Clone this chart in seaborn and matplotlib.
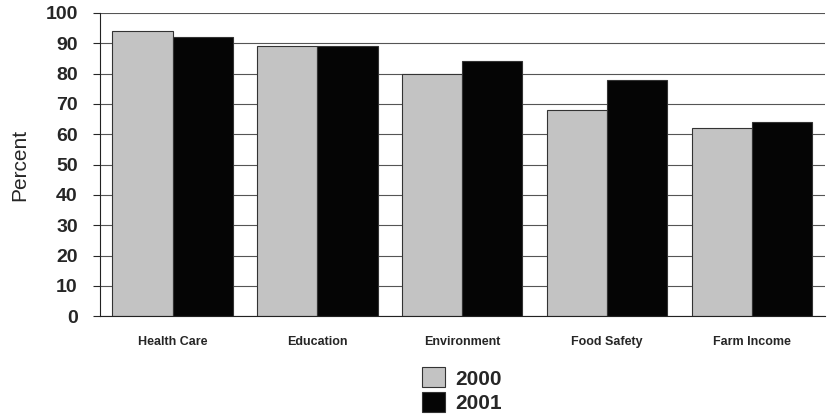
import numpy as np
import pandas as pd
import matplotlib
matplotlib.use('Agg')
import matplotlib.pyplot as plt
import seaborn as sns

categories = ['Health Care', 'Education', 'Environment', 'Food Safety', 'Farm Income']
years = ['2000', '2001']
pct_2000 = [94, 89, 80, 68, 62]
pct_2001 = [92, 89, 84, 78, 64]
y_ticks = [0, 10, 20, 30, 40, 50, 60, 70, 80, 90, 100]

df = pd.DataFrame({
    'category': categories * 2,
    'year': [years[0]] * len(categories) + [years[1]] * len(categories),
    'percent': pct_2000 + pct_2001,
})

sns.set_style('white')
plt.rcParams['font.family'] = ['Liberation Sans', 'DejaVu Sans']

fig = plt.figure(figsize=(8.27, 4.15), dpi=100)
ax = fig.add_axes([0.121, 0.238, 0.876, 0.731])

sns.barplot(data=df, x='category', y='percent', hue='year',
            palette={'2000': '#c3c3c3', '2001': '#050505'},
            width=0.83, edgecolor='#333333', linewidth=0.8,
            saturation=1, ax=ax, legend=True)

ax.set_ylim(0, 100)
ax.set_xlim(-0.5, 4.5)
ax.set_yticks(y_ticks)
ax.set_yticklabels([str(t) for t in y_ticks], fontsize=14, fontweight='bold')
ax.set_xticks(range(len(categories)))
ax.set_xticklabels(categories, fontsize=9, fontweight='bold')
ax.tick_params(axis='x', length=0, pad=14)
ax.tick_params(axis='y', length=5, width=0.8, direction='out', left=True, pad=11)
ax.yaxis.grid(True, color='#555555', linewidth=0.8)
ax.set_axisbelow(True)
ax.set_xlabel('')
ax.set_ylabel('Percent', fontsize=15, labelpad=12)

for side in ['top', 'right']:
    ax.spines[side].set_visible(False)
ax.spines['left'].set_color('#222222')
ax.spines['bottom'].set_color('#222222')

handles, labels = ax.get_legend_handles_labels()
ax.legend(handles, labels, loc='upper left',
          bbox_to_anchor=(412 / 827, 1 - 357 / 415), bbox_transform=fig.transFigure,
          frameon=False, prop={'weight': 'bold', 'size': 15}, borderpad=0,
          handlelength=1.1, handleheight=1.1, handletextpad=0.5, labelspacing=0.15)

fig.savefig('out.png', dpi=100)
